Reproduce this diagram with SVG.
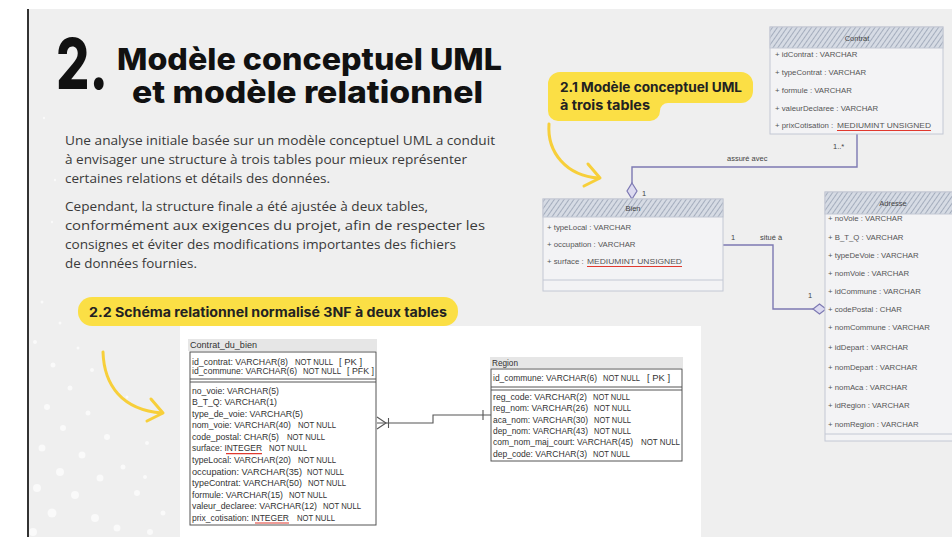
<svg xmlns="http://www.w3.org/2000/svg" width="952" height="537" viewBox="0 0 952 537">
<defs>
<pattern id="hatch" patternUnits="userSpaceOnUse" width="4" height="4" patternTransform="rotate(35)">
<rect width="4" height="4" fill="#d6dbe4"/>
<line x1="0" y1="0" x2="0" y2="4" stroke="#8f99ad" stroke-width="1.4"/>
</pattern>
</defs>
<style>
.bg{fill:#efefef}
.title{font-family:Inter,'Liberation Sans',sans-serif;font-weight:800;fill:#111}
.para{font-family:'Open Sans','Liberation Sans',sans-serif;font-size:13.5px;fill:#3a3a3a}
.lab{font-family:Inter,'Liberation Sans',sans-serif;font-weight:700;font-size:13px;fill:#222}
.pill{fill:#fbdf45}
.yarrow{fill:none;stroke:#f7cf3a;stroke-width:3;stroke-linecap:round;stroke-linejoin:round}
.uhead{fill:url(#hatch);stroke:#c3c8d4;stroke-width:1}
.ubox{fill:#f3f3f5;stroke:#c3c8d4;stroke-width:1}
.ut{font-family:'Liberation Sans',Arial,sans-serif;font-size:7.8px;fill:#555}
.uttl{font-family:'Liberation Sans',Arial,sans-serif;font-size:7.5px;fill:#444;text-anchor:middle}
.red{stroke:#e0392f;stroke-width:1.2}
.ucon{fill:none;stroke:#7d79b3;stroke-width:1.4}
.dia{fill:#dcdaf0;stroke:#7d79b3;stroke-width:1.2}
.ulab{font-family:'Liberation Sans',Arial,sans-serif;font-size:7.5px;fill:#444}
.et{font-family:'Liberation Sans',Arial,sans-serif;font-size:9px;fill:#333}
.ebox{fill:#fff;stroke:#555;stroke-width:1}
.eline{stroke:#555;stroke-width:1}
.eband{fill:#e6e6e6}
.econ{fill:none;stroke:#555;stroke-width:1.1}
.dot{fill:#fff;opacity:0.65}
</style>

<!-- background -->
<rect x="0" y="0" width="952" height="537" fill="#fff"/>
<rect class="bg" x="29" y="9" width="923" height="528"/>
<line x1="28" y1="9" x2="28" y2="537" stroke="#333" stroke-width="2"/>

<g id="dots">
<circle class="dot" cx="42" cy="302" r="1.5"/>
<circle class="dot" cx="60" cy="323" r="1.5"/>
<circle class="dot" cx="35" cy="342" r="2"/>
<circle class="dot" cx="78" cy="348" r="1.5"/>
<circle class="dot" cx="53" cy="365" r="2.5"/>
<circle class="dot" cx="92" cy="370" r="2"/>
<circle class="dot" cx="70" cy="388" r="2.5"/>
<circle class="dot" cx="127" cy="397" r="1.5"/>
<circle class="dot" cx="47" cy="407" r="3"/>
<circle class="dot" cx="88" cy="413" r="2.5"/>
<circle class="dot" cx="63" cy="428" r="3"/>
<circle class="dot" cx="107" cy="437" r="3"/>
<circle class="dot" cx="147" cy="443" r="2"/>
<circle class="dot" cx="42" cy="448" r="3.5"/>
<circle class="dot" cx="82" cy="455" r="3.5"/>
<circle class="dot" cx="123" cy="467" r="2.5"/>
<circle class="dot" cx="60" cy="472" r="4"/>
<circle class="dot" cx="145" cy="477" r="2"/>
<circle class="dot" cx="100" cy="478" r="3.5"/>
<circle class="dot" cx="37" cy="488" r="4"/>
<circle class="dot" cx="137" cy="493" r="3"/>
<circle class="dot" cx="75" cy="495" r="4"/>
<circle class="dot" cx="52" cy="513" r="4.5"/>
<circle class="dot" cx="163" cy="513" r="2.5"/>
<circle class="dot" cx="95" cy="518" r="4"/>
<circle class="dot" cx="117" cy="528" r="3.5"/>
<circle class="dot" cx="33" cy="532" r="4"/>
<circle class="dot" cx="150" cy="532" r="3"/>
<circle class="dot" cx="55" cy="180" r="1.2"/>
<circle class="dot" cx="52" cy="222" r="1.2"/>
<circle class="dot" cx="44" cy="118" r="1.2"/>
</g>

<!-- title -->
<g id="title">
<text class="title" x="56" y="89" font-size="70" textLength="52" lengthAdjust="spacingAndGlyphs">2.</text>
<text class="title" x="117" y="70" font-size="30" textLength="385" lengthAdjust="spacingAndGlyphs">Modèle conceptuel UML</text>
<text class="title" x="132" y="103" font-size="30" textLength="351" lengthAdjust="spacingAndGlyphs">et modèle relationnel</text>
</g>

<!-- paragraph -->
<g id="paragraph">
<text class="para" x="65" y="145" textLength="430" lengthAdjust="spacingAndGlyphs">Une analyse initiale basée sur un modèle conceptuel UML a conduit</text>
<text class="para" x="65" y="164" textLength="402" lengthAdjust="spacingAndGlyphs">à envisager une structure à trois tables pour mieux représenter</text>
<text class="para" x="65" y="183" textLength="265" lengthAdjust="spacingAndGlyphs">certaines relations et détails des données.</text>
<text class="para" x="65" y="211" textLength="363" lengthAdjust="spacingAndGlyphs">Cependant, la structure finale a été ajustée à deux tables,</text>
<text class="para" x="65" y="230" textLength="420" lengthAdjust="spacingAndGlyphs">conformément aux exigences du projet, afin de respecter les</text>
<text class="para" x="65" y="249" textLength="391" lengthAdjust="spacingAndGlyphs">consignes et éviter des modifications importantes des fichiers</text>
<text class="para" x="65" y="268" textLength="132" lengthAdjust="spacingAndGlyphs">de données fournies.</text>
</g>

<!-- label 2.1 -->
<g id="label-21">
<path class="pill" d="M560,72 H741 A12,12 0 0 1 753,84 V91 A12,12 0 0 1 741,103 H668 A8,8 0 0 0 660,111 A10,10 0 0 1 650,121 H558 A10,10 0 0 1 548,111 V84 A12,12 0 0 1 560,72 Z"/>
<text class="lab" x="560" y="92" textLength="182" lengthAdjust="spacingAndGlyphs">2.1 Modèle conceptuel UML</text>
<text class="lab" x="560" y="110" textLength="90" lengthAdjust="spacingAndGlyphs">à trois tables</text>
<path class="yarrow" d="M549,124 C547,152 566,176 599,178"/>
<path class="yarrow" d="M588,164 L600,178 L584,186"/>
</g>

<!-- label 2.2 -->
<g id="label-22">
<rect class="pill" x="78" y="297" width="380" height="29" rx="14"/>
<text class="lab" x="89" y="317" font-size="14" textLength="358" lengthAdjust="spacingAndGlyphs">2.2 Schéma relationnel normalisé 3NF à deux tables</text>
<path class="yarrow" d="M103,352 C104,385 122,410 162,413"/>
<path class="yarrow" d="M151,399 L163,413 L147,421"/>
</g>

<!-- white panel -->
<rect x="180" y="326" width="521" height="211" fill="#fff"/>

<!-- UML connectors -->
<g id="uml-connectors">
<path class="ucon" d="M857,134 V167 H632 V183"/>
<polygon class="dia" points="632,183 637,191 632,199 627,191"/>
<text class="ulab" x="833" y="149">1..*</text>
<text class="ulab" x="727" y="161">assuré avec</text>
<text class="ulab" x="642" y="196" font-size="9">1</text>
<path class="ucon" d="M723,245 H773 V309 H813"/>
<polygon class="dia" points="813,309 819.5,304 826,309 819.5,314"/>
<text class="ulab" x="731" y="240" font-size="8.5">1</text>
<text class="ulab" x="760" y="240">situé à</text>
<text class="ulab" x="808" y="298" font-size="8.5">1</text>
</g>

<!-- Contrat -->
<g id="contrat">
<rect class="ubox" x="770" y="27" width="173" height="107"/>
<rect class="uhead" x="770" y="27" width="173" height="21"/>
<text class="uttl" x="857" y="41">Contrat</text>
<text class="ut" x="775" y="57">+ idContrat : VARCHAR</text>
<text class="ut" x="775" y="75">+ typeContrat : VARCHAR</text>
<text class="ut" x="775" y="93">+ formule : VARCHAR</text>
<text class="ut" x="775" y="111">+ valeurDeclaree : VARCHAR</text>
<text class="ut" x="775" y="128">+ prixCotisation : <tspan x="837" textLength="94" lengthAdjust="spacingAndGlyphs">MEDIUMINT UNSIGNED</tspan></text>
<line class="red" x1="837" y1="130.5" x2="931" y2="130.5"/>
</g>

<!-- Bien -->
<g id="bien">
<rect class="ubox" x="543" y="199" width="180" height="92"/>
<rect class="uhead" x="543" y="199" width="180" height="18"/>
<line x1="543" y1="280" x2="723" y2="280" stroke="#c3c8d4" stroke-width="1"/>
<text class="uttl" x="633" y="211">Bien</text>
<text class="ut" x="547" y="230" font-size="8.2">+ typeLocal : VARCHAR</text>
<text class="ut" x="547" y="247" font-size="8.2">+ occupation : VARCHAR</text>
<text class="ut" x="547" y="264" font-size="8.2">+ surface : <tspan x="587" textLength="95" lengthAdjust="spacingAndGlyphs">MEDIUMINT UNSIGNED</tspan></text>
<line class="red" x1="587" y1="266.5" x2="682" y2="266.5"/>
</g>

<!-- Adresse -->
<g id="adresse">
<rect class="ubox" x="825" y="192" width="140" height="249"/>
<rect class="uhead" x="825" y="192" width="140" height="22"/>
<line x1="825" y1="434" x2="952" y2="434" stroke="#c3c8d4" stroke-width="1"/>
<text class="uttl" x="893" y="206">Adresse</text>
<text class="ut" x="828" y="221" font-size="7.5">+ noVoie : VARCHAR</text>
<text class="ut" x="828" y="240" font-size="7.5">+ B_T_Q : VARCHAR</text>
<text class="ut" x="828" y="258" font-size="7.5">+ typeDeVoie : VARCHAR</text>
<text class="ut" x="828" y="276" font-size="7.5">+ nomVoie : VARCHAR</text>
<text class="ut" x="828" y="294" font-size="7.5">+ idCommune : VARCHAR</text>
<text class="ut" x="828" y="312" font-size="7.5">+ codePostal : CHAR</text>
<text class="ut" x="828" y="330" font-size="7.5">+ nomCommune : VARCHAR</text>
<text class="ut" x="828" y="350" font-size="7.5">+ idDepart : VARCHAR</text>
<text class="ut" x="828" y="370" font-size="7.5">+ nomDepart : VARCHAR</text>
<text class="ut" x="828" y="390" font-size="7.5">+ nomAca : VARCHAR</text>
<text class="ut" x="828" y="408" font-size="7.5">+ idRegion : VARCHAR</text>
<text class="ut" x="828" y="427" font-size="7.5">+ nomRegion : VARCHAR</text>
</g>

<!-- ER connector -->
<g id="er-connectors">
<path class="econ" d="M377,423 H433 V415 H491"/>
<path class="econ" d="M377,417 L386,423 L377,429"/>
<line class="econ" x1="388.5" y1="418" x2="388.5" y2="428"/>
<line class="econ" x1="483" y1="410" x2="483" y2="420"/>
</g>

<!-- Contrat_du_bien -->
<g id="contrat-du-bien">
<rect class="eband" x="188" y="339" width="189" height="12"/>
<text class="et" x="190" y="348" textLength="67" lengthAdjust="spacingAndGlyphs">Contrat_du_bien</text>
<rect class="ebox" x="190" y="352" width="186" height="173"/>
<line class="eline" x1="190" y1="379" x2="376" y2="379"/>
<line class="eline" x1="190" y1="382" x2="376" y2="382"/>
<text class="et" x="192" y="365" textLength="96" lengthAdjust="spacingAndGlyphs">id_contrat: VARCHAR(8)</text>
<text class="et" x="295" y="365" textLength="38" lengthAdjust="spacingAndGlyphs">NOT NULL</text>
<text class="et" x="339" y="365" textLength="23" lengthAdjust="spacingAndGlyphs">[ PK ]</text>
<text class="et" x="192" y="374" textLength="105" lengthAdjust="spacingAndGlyphs">id_commune: VARCHAR(6)</text>
<text class="et" x="303" y="374" textLength="38" lengthAdjust="spacingAndGlyphs">NOT NULL</text>
<text class="et" x="347" y="374" textLength="27" lengthAdjust="spacingAndGlyphs">[ PFK ]</text>

<text class="et" x="192" y="393.5" textLength="87" lengthAdjust="spacingAndGlyphs">no_voie: VARCHAR(5)</text>
<text class="et" x="192" y="405.1" textLength="85" lengthAdjust="spacingAndGlyphs">B_T_Q: VARCHAR(1)</text>
<text class="et" x="192" y="416.6" textLength="111" lengthAdjust="spacingAndGlyphs">type_de_voie: VARCHAR(5)</text>
<text class="et" x="192" y="428.2" textLength="99" lengthAdjust="spacingAndGlyphs">nom_voie: VARCHAR(40)</text>
<text class="et" x="298" y="428.2" textLength="38" lengthAdjust="spacingAndGlyphs">NOT NULL</text>
<text class="et" x="192" y="439.8" textLength="87" lengthAdjust="spacingAndGlyphs">code_postal: CHAR(5)</text>
<text class="et" x="287" y="439.8" textLength="38" lengthAdjust="spacingAndGlyphs">NOT NULL</text>
<text class="et" x="192" y="451.4" textLength="70" lengthAdjust="spacingAndGlyphs">surface: INTEGER</text>
<line class="red" x1="226" y1="453.6" x2="262" y2="453.6"/>
<text class="et" x="269" y="451.4" textLength="38" lengthAdjust="spacingAndGlyphs">NOT NULL</text>
<text class="et" x="192" y="462.9" textLength="99" lengthAdjust="spacingAndGlyphs">typeLocal: VARCHAR(20)</text>
<text class="et" x="298" y="462.9" textLength="38" lengthAdjust="spacingAndGlyphs">NOT NULL</text>
<text class="et" x="192" y="474.5" textLength="110" lengthAdjust="spacingAndGlyphs">occupation: VARCHAR(35)</text>
<text class="et" x="307" y="474.5" textLength="37" lengthAdjust="spacingAndGlyphs">NOT NULL</text>
<text class="et" x="192" y="486.1" textLength="110" lengthAdjust="spacingAndGlyphs">typeContrat: VARCHAR(50)</text>
<text class="et" x="308" y="486.1" textLength="38" lengthAdjust="spacingAndGlyphs">NOT NULL</text>
<text class="et" x="192" y="497.6" textLength="91" lengthAdjust="spacingAndGlyphs">formule: VARCHAR(15)</text>
<text class="et" x="289" y="497.6" textLength="38" lengthAdjust="spacingAndGlyphs">NOT NULL</text>
<text class="et" x="192" y="509.2" textLength="125" lengthAdjust="spacingAndGlyphs">valeur_declaree: VARCHAR(12)</text>
<text class="et" x="323" y="509.2" textLength="38" lengthAdjust="spacingAndGlyphs">NOT NULL</text>
<text class="et" x="192" y="520.8" textLength="97" lengthAdjust="spacingAndGlyphs">prix_cotisation: INTEGER</text>
<line class="red" x1="255" y1="523" x2="289" y2="523"/>
<text class="et" x="297" y="520.8" textLength="38" lengthAdjust="spacingAndGlyphs">NOT NULL</text>
</g>

<!-- Region -->
<g id="region">
<rect class="eband" x="490" y="357" width="193" height="11"/>
<text class="et" x="492" y="366" textLength="26" lengthAdjust="spacingAndGlyphs">Region</text>
<rect class="ebox" x="491" y="369" width="191" height="92"/>
<line class="eline" x1="491" y1="387" x2="682" y2="387"/>
<line class="eline" x1="491" y1="390" x2="682" y2="390"/>
<text class="et" x="493" y="381" textLength="104" lengthAdjust="spacingAndGlyphs">id_commune: VARCHAR(6)</text>
<text class="et" x="603" y="381" textLength="37" lengthAdjust="spacingAndGlyphs">NOT NULL</text>
<text class="et" x="647" y="381" textLength="23" lengthAdjust="spacingAndGlyphs">[ PK ]</text>
<text class="et" x="493" y="400" textLength="94" lengthAdjust="spacingAndGlyphs">reg_code: VARCHAR(2)</text>
<text class="et" x="593" y="400" textLength="37" lengthAdjust="spacingAndGlyphs">NOT NULL</text>
<text class="et" x="493" y="411.3" textLength="95" lengthAdjust="spacingAndGlyphs">reg_nom: VARCHAR(26)</text>
<text class="et" x="594" y="411.3" textLength="37" lengthAdjust="spacingAndGlyphs">NOT NULL</text>
<text class="et" x="493" y="422.6" textLength="95" lengthAdjust="spacingAndGlyphs">aca_nom: VARCHAR(30)</text>
<text class="et" x="594" y="422.6" textLength="37" lengthAdjust="spacingAndGlyphs">NOT NULL</text>
<text class="et" x="493" y="433.9" textLength="95" lengthAdjust="spacingAndGlyphs">dep_nom: VARCHAR(43)</text>
<text class="et" x="594" y="433.9" textLength="37" lengthAdjust="spacingAndGlyphs">NOT NULL</text>
<text class="et" x="493" y="445.2" textLength="140" lengthAdjust="spacingAndGlyphs">com_nom_maj_court: VARCHAR(45)</text>
<text class="et" x="641" y="445.2" textLength="39" lengthAdjust="spacingAndGlyphs">NOT NULL</text>
<text class="et" x="493" y="456.5" textLength="94" lengthAdjust="spacingAndGlyphs">dep_code: VARCHAR(3)</text>
<text class="et" x="593" y="456.5" textLength="37" lengthAdjust="spacingAndGlyphs">NOT NULL</text>
</g>
</svg>
